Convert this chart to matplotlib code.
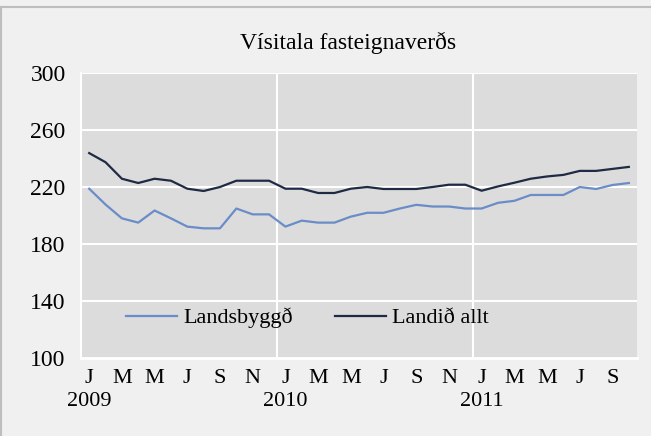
import matplotlib
matplotlib.use("Agg")
import matplotlib.pyplot as plt
from matplotlib.lines import Line2D

# monthly index, Jan 2009 - Oct 2011
month_letters = ["J", "F", "M", "A", "M", "J", "J", "A", "S", "O", "N", "D"]
years = [2009, 2010, 2011]
n_months = 34

landsbyggd = [218.8, 207.7, 198.0, 195.0, 203.5, 198.0, 192.2, 191.0, 191.0, 204.9,
              200.8, 200.8, 192.2, 196.4, 195.0, 195.0, 199.2, 201.9, 201.9, 204.9,
              207.5, 206.3, 206.3, 204.9, 204.9, 208.9, 210.3, 214.4, 214.4, 214.4,
              220.0, 218.6, 221.4, 222.8]
landid_allt = [243.8, 237.4, 225.8, 222.8, 225.8, 224.4, 218.8, 217.2, 220.0, 224.4,
               224.4, 224.4, 218.8, 218.8, 215.8, 215.8, 218.8, 220.0, 218.6, 218.6,
               218.6, 220.0, 221.6, 221.6, 217.4, 220.4, 223.0, 225.8, 227.4, 228.5,
               231.3, 231.3, 232.7, 234.1]

BG = "#f0f0f0"
PLOT_BG = "#dcdcdc"
FONT = "Liberation Serif"
FS = 16

fig = plt.figure(figsize=(6.51, 4.36), dpi=100, facecolor=BG)
ax = fig.add_axes([81 / 651, 1 - 358 / 436, (637 - 81) / 651, (358 - 73) / 436])
ax.set_facecolor(PLOT_BG)

x = list(range(n_months))
ax.plot(x, landsbyggd, color="#6a8cc7", lw=1.6, label="Landsbyggð")
ax.plot(x, landid_allt, color="#1f2a44", lw=1.6, label="Landið allt")

ax.set_xlim(-0.5, n_months - 0.5)
ax.set_ylim(100, 300)
ax.set_yticks(range(100, 301, 40))
ax.grid(False)
for v in range(140, 301, 40):
    ax.axhline(v, color="white", lw=1.5, zorder=0.5)
for b in (11.5, 23.5):
    ax.axvline(b, color="white", lw=1.5, zorder=0.5)

ticks = list(range(0, n_months, 2))
labels = []
for t in ticks:
    lab = month_letters[t % 12]
    if t % 12 == 0:
        lab += "\n" + str(years[t // 12])
    labels.append(lab)
ax.set_xticks(ticks)
ax.set_xticklabels(labels, linespacing=1.25, va="top")
ax.tick_params(axis="x", length=0, labelsize=FS, pad=8)
ax.tick_params(axis="y", length=0, labelsize=17, pad=11)
for lab in ax.get_xticklabels() + ax.get_yticklabels():
    lab.set_fontfamily(FONT)

for side in ("top", "right"):
    ax.spines[side].set_visible(False)
ax.spines["left"].set_color("white")
ax.spines["bottom"].set_color("white")
ax.spines["left"].set_linewidth(1.5)
ax.spines["bottom"].set_linewidth(2)

fig.text(348 / 651, 1 - 43 / 436, "Vísitala fasteignaverðs",
         ha="center", va="center", fontsize=17, family=FONT)

leg = ax.legend(loc="center left", bbox_to_anchor=(0.081, 0.14), ncol=2,
                frameon=False, prop={"family": FONT, "size": FS},
                handlelength=2.3, columnspacing=1.85, handletextpad=0.3,
                borderpad=0, borderaxespad=0)

# outer frame lines
fig.add_artist(Line2D([0, 1], [1 - 7.5 / 436] * 2, color="#bdbdbd", lw=1.5,
                      transform=fig.transFigure))
fig.add_artist(Line2D([0.6 / 651] * 2, [0, 1 - 7.5 / 436], color="#bdbdbd", lw=1.5,
                      transform=fig.transFigure))

fig.savefig("out.png", dpi=100, facecolor=BG)
